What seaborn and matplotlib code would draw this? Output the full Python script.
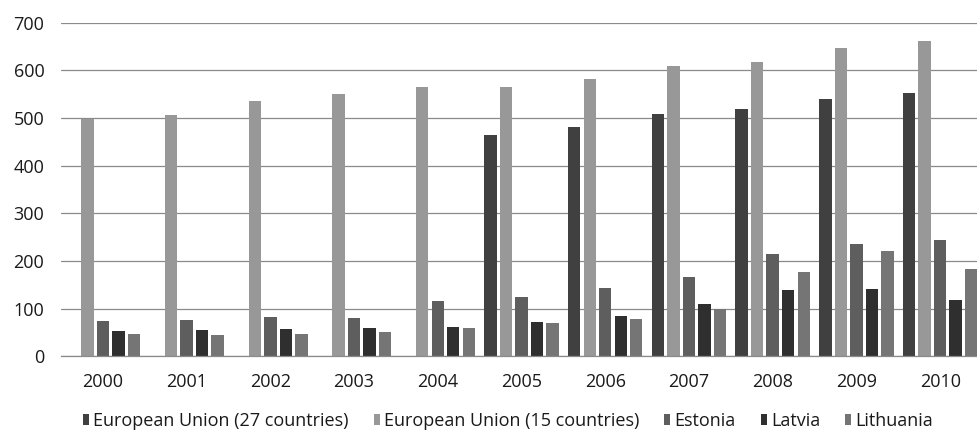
import numpy as np
import pandas as pd
import matplotlib
matplotlib.use("Agg")
import matplotlib.pyplot as plt
import seaborn as sns

years = ["2000", "2001", "2002", "2003", "2004", "2005",
         "2006", "2007", "2008", "2009", "2010"]
series = ["European Union (27 countries)", "European Union (15 countries)",
          "Estonia", "Latvia", "Lithuania"]

eu27 = [np.nan, np.nan, np.nan, np.nan, np.nan, 465, 481, 508, 518, 539, 553]
eu15 = [497, 506, 535, 551, 565, 565, 581, 610, 618, 646, 661]
estonia = [74, 76, 82, 80, 117, 125, 143, 166, 214, 235, 244]
latvia = [53, 56, 57, 59, 61, 73, 84, 109, 139, 141, 119]
lithuania = [47, 45, 47, 50, 59, 70, 78, 100, 176, 221, 184]

colors = ["#404040", "#989898", "#5e5e5e", "#2f2f2f", "#757575"]
yticks = [0, 100, 200, 300, 400, 500, 600, 700]

rows = []
for name, vals in zip(series, [eu27, eu15, estonia, latvia, lithuania]):
    for yr, v in zip(years, vals):
        if not np.isnan(v):
            rows.append({"year": yr, "series": name, "value": v})
df = pd.DataFrame(rows)

sns.set_theme(style="white")
plt.rcParams["font.family"] = ["Open Sans", "DejaVu Sans"]

fig = plt.figure(figsize=(9.77, 4.34), dpi=100)
ax = fig.add_axes([61 / 977, 1 - 356.3 / 434, 1 - 61 / 977, (356.3 - 22.7) / 434])

sns.barplot(data=df, x="year", y="value", hue="series", order=years,
            hue_order=series, palette=colors, width=0.926, gap=0.2,
            errorbar=None, linewidth=0, saturation=1, ax=ax)

ax.set_ylim(0, 700)
ax.set_xlim(-0.5, 10.44)
ax.set_yticks(yticks)
ax.set_yticklabels([str(t) for t in yticks])
ax.set_xlabel("")
ax.set_ylabel("")

ax.yaxis.grid(True, color="#8a8a8a", linewidth=0.9)
ax.set_axisbelow(True)
for side in ["top", "right", "left"]:
    ax.spines[side].set_visible(False)
ax.spines["bottom"].set_color("#8a8a8a")
ax.spines["bottom"].set_linewidth(0.9)

ax.tick_params(axis="y", length=0, pad=12, labelsize=13, labelcolor="#1a1a1a")
ax.tick_params(axis="x", length=0, pad=12, labelsize=13, labelcolor="#1a1a1a")

handles, labels = ax.get_legend_handles_labels()
ax.get_legend().remove()
fig.legend(handles, labels, loc="center", bbox_to_anchor=(0.52, 13.5 / 434),
           ncol=5, frameon=False, fontsize=13, handlelength=0.33,
           handleheight=0.55, handletextpad=0.22, columnspacing=1.4,
           borderaxespad=0, borderpad=0)
for t in fig.legends[0].get_texts():
    t.set_color("#1a1a1a")

fig.savefig("out.png", dpi=100)
